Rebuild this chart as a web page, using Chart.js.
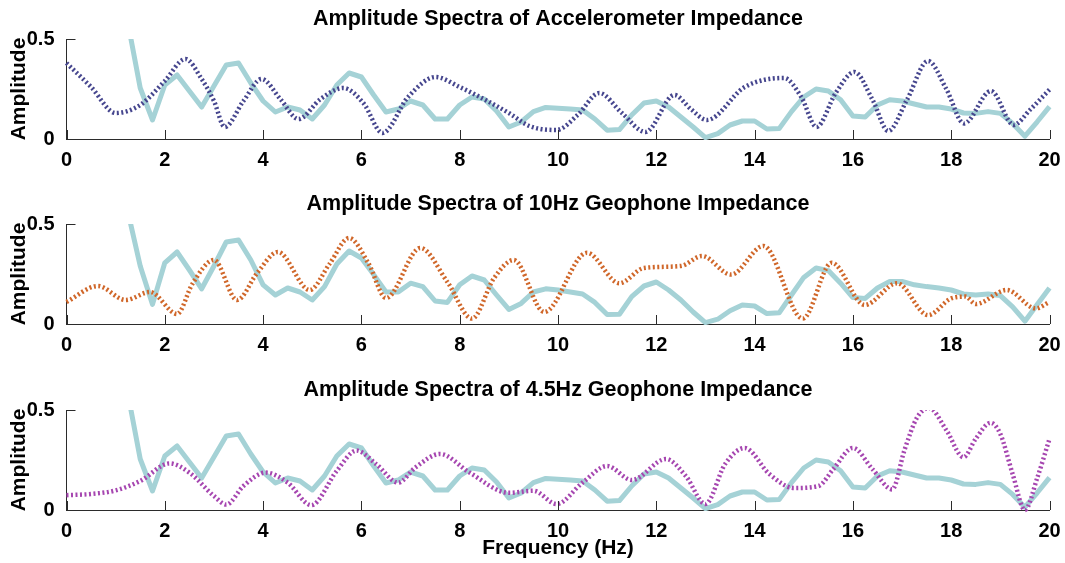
<!DOCTYPE html>
<html><head><meta charset="utf-8">
<script src="https://cdn.jsdelivr.net/npm/chart.js@4.4.1/dist/chart.umd.min.js"></script>
<style>
html,body{margin:0;padding:0;background:#fff;width:1065px;height:563px;overflow:hidden}
.p{position:absolute;left:0;width:1065px}
canvas{display:block}
</style></head><body>
<div class="p" style="top:0px;height:185px"><canvas id="c1" width="1065" height="185" style="width:1065px;height:185px"></canvas></div>
<div class="p" style="top:185px;height:185px"><canvas id="c2" width="1065" height="185" style="width:1065px;height:185px"></canvas></div>
<div class="p" style="top:371px;height:192px"><canvas id="c3" width="1065" height="192" style="width:1065px;height:192px"></canvas></div>
<script>
// ---------- data ----------
const titles = [
  'Amplitude Spectra of Accelerometer Impedance',
  'Amplitude Spectra of 10Hz Geophone Impedance',
  'Amplitude Spectra of 4.5Hz Geophone Impedance'
];
const xTicks = [0, 2, 4, 6, 8, 10, 12, 14, 16, 18, 20];
const yTicks = [0, 0.5];

// reference (solid teal) spectrum frequencies
const refFreq = [1.25,1.5,1.75,2,2.25,2.5,2.75,3,3.25,3.5,3.75,4,4.25,4.5,4.75,5,5.25,5.5,5.75,6,6.25,6.5,6.75,7,7.25,7.5,7.75,8,8.25,8.5,8.75,9,9.25,9.5,9.75,10,10.25,10.5,10.75,11,11.25,11.5,11.75,12,12.25,12.5,12.75,13,13.25,13.5,13.75,14,14.25,14.5,14.75,15,15.25,15.5,15.75,16,16.25,16.5,16.75,17,17.25,17.5,17.75,18,18.25,18.5,18.75,19,19.25,19.5,19.75,20];
// panels 1 and 3
const refAmpA = [0.58,0.255,0.095,0.27,0.32,0.24,0.16,0.265,0.37,0.38,0.28,0.19,0.135,0.16,0.145,0.10,0.17,0.27,0.33,0.31,0.22,0.135,0.15,0.19,0.17,0.10,0.10,0.17,0.21,0.20,0.14,0.06,0.085,0.137,0.158,0.154,0.15,0.145,0.10,0.044,0.047,0.12,0.18,0.19,0.16,0.11,0.06,0.007,0.027,0.07,0.09,0.09,0.05,0.052,0.137,0.21,0.25,0.24,0.196,0.115,0.11,0.17,0.196,0.19,0.175,0.16,0.16,0.15,0.13,0.128,0.137,0.128,0.078,0.014,0.086,0.162];
// panel 2
const refAmpB = [0.56,0.29,0.098,0.306,0.36,0.27,0.176,0.29,0.41,0.42,0.32,0.196,0.145,0.18,0.16,0.12,0.187,0.30,0.365,0.33,0.247,0.16,0.16,0.204,0.187,0.115,0.108,0.196,0.24,0.22,0.145,0.073,0.103,0.16,0.176,0.17,0.16,0.15,0.108,0.047,0.049,0.137,0.19,0.21,0.17,0.12,0.06,0.007,0.024,0.066,0.095,0.09,0.052,0.056,0.145,0.233,0.28,0.267,0.204,0.132,0.128,0.18,0.213,0.213,0.196,0.187,0.18,0.17,0.15,0.145,0.15,0.142,0.086,0.014,0.098,0.18];

// accelerometer (dotted navy)
const accFreq = [0,0.5,1.0,1.5,2.0,2.42,2.75,3.0,3.22,3.6,3.97,4.35,4.72,5.17,5.63,6.04,6.43,6.95,7.51,8.0,8.41,9.0,9.42,9.97,10.4,10.84,11.3,11.78,12.37,12.7,13.03,13.8,14.6,14.95,15.26,15.65,16.03,16.4,16.72,17.1,17.53,17.9,18.26,18.81,19.27,19.6,20];
const accAmp  = [0.38,0.26,0.13,0.17,0.29,0.40,0.30,0.19,0.06,0.19,0.30,0.20,0.10,0.20,0.255,0.18,0.03,0.21,0.31,0.26,0.21,0.13,0.065,0.045,0.12,0.23,0.13,0.035,0.22,0.15,0.095,0.26,0.305,0.21,0.06,0.23,0.335,0.196,0.04,0.196,0.39,0.25,0.078,0.24,0.07,0.145,0.247];

// 10 Hz geophone (dotted orange)
const g10Freq = [0,0.64,1.2,1.7,2.25,2.56,3.0,3.47,3.88,4.3,4.95,5.35,5.75,6.15,6.5,7.2,7.75,8.25,8.7,9.1,9.72,10.59,11.25,11.75,12.5,12.93,13.52,14.18,14.98,15.57,16.24,16.9,17.53,18.0,18.29,18.5,19.13,19.72,20];
const g10Amp  = [0.11,0.19,0.12,0.16,0.05,0.20,0.32,0.12,0.255,0.36,0.17,0.30,0.43,0.30,0.13,0.38,0.21,0.027,0.23,0.32,0.06,0.356,0.204,0.28,0.29,0.34,0.247,0.39,0.027,0.306,0.095,0.204,0.044,0.128,0.137,0.10,0.17,0.078,0.11];

// 4.5 Hz geophone (dotted purple)
const g45Freq = [0,0.5,1.0,1.5,2.1,2.5,3.0,3.25,3.6,4.05,4.5,4.98,5.5,5.9,6.3,6.75,7.1,7.6,8.2,9.0,9.5,9.97,10.5,11.0,11.5,12.2,12.6,13.0,13.4,13.8,14.3,14.8,15.3,15.6,16.0,16.4,16.8,17.05,17.3,17.55,17.9,18.25,18.5,18.8,19.0,19.25,19.5,19.75,20];
const g45Amp  = [0.074,0.08,0.098,0.145,0.233,0.187,0.07,0.027,0.12,0.187,0.137,0.024,0.196,0.297,0.23,0.137,0.213,0.28,0.187,0.086,0.096,0.03,0.137,0.22,0.15,0.255,0.17,0.03,0.23,0.31,0.18,0.11,0.12,0.204,0.31,0.204,0.103,0.30,0.46,0.51,0.40,0.264,0.356,0.436,0.38,0.18,0.0,0.16,0.356];

// ---------- helpers ----------
const FONT = "'Liberation Sans', Arial, Helvetica, sans-serif";
const TEAL = '#a5d2d6';
const AXIS = '#2b2b2b';

function pts(xs, ys) { return xs.map((x, i) => ({x: x, y: ys[i]})); }

const inTicks = {
  id: 'inTicks',
  afterDatasetsDraw(chart) {
    const {ctx, chartArea: a, scales: {x, y}} = chart;
    ctx.save();
    ctx.strokeStyle = AXIS;
    ctx.lineWidth = 1;
    ctx.beginPath();
    xTicks.forEach(v => {
      const px = Math.round(x.getPixelForValue(v)) + 0.5;
      ctx.moveTo(px, a.bottom);
      ctx.lineTo(px, a.bottom - 9);
    });
    yTicks.forEach(v => {
      const py = Math.round(y.getPixelForValue(v)) + 0.5;
      ctx.moveTo(a.left, py);
      ctx.lineTo(a.left + 9, py);
    });
    ctx.stroke();
    ctx.restore();
  }
};

function makePanel(id, title, dotFreq, dotAmp, dotColor, refAmp, H, showX) {
  new Chart(document.getElementById(id), {
    type: 'scatter',
    data: {
      datasets: [
        {
          data: pts(dotFreq, dotAmp), showLine: true, borderColor: dotColor,
          borderWidth: 4.5, borderDash: [2, 2.5], borderCapStyle: 'butt',
          cubicInterpolationMode: 'monotone', pointRadius: 0, fill: false,
          clip: {left: 5, top: 0, right: 5, bottom: 5}
        },
        {
          data: pts(refFreq, refAmp), showLine: true, borderColor: TEAL,
          borderWidth: 5, borderJoinStyle: 'round', tension: 0, pointRadius: 0, fill: false,
          clip: {left: 5, top: 0, right: 5, bottom: 5}
        }
      ]
    },
    options: {
      responsive: false, animation: false, devicePixelRatio: 1,
      layout: {padding: {left: 0, right: 15.5, top: 0, bottom: 0}, autoPadding: false},
      plugins: {
        legend: {display: false}, tooltip: {enabled: false},
        title: {display: true, text: title, color: '#000', fullSize: false,
          font: {family: FONT, size: 21.5, weight: 'bold'}, padding: {top: 6, bottom: 7.2}}
      },
      scales: {
        x: {
          type: 'linear', min: 0, max: 20,
          afterFit(s) { s.height = H - 139; },
          afterBuildTicks(s) { s.ticks = xTicks.map(v => ({value: v})); },
          grid: {display: false},
          border: {display: true, color: AXIS, width: 1},
          ticks: {color: '#000', font: {family: FONT, size: 20, weight: 'bold'}, padding: 1, maxRotation: 0, autoSkip: false},
          title: {display: showX, text: 'Frequency (Hz)', color: '#000',
            font: {family: FONT, size: 21, weight: 'bold'}, padding: {top: 0, bottom: 2}}
        },
        y: {
          min: 0, max: 0.5,
          afterFit(s) { s.width = 66.5; },
          afterBuildTicks(s) { s.ticks = yTicks.map(v => ({value: v})); },
          grid: {display: false},
          border: {display: true, color: AXIS, width: 1},
          ticks: {color: '#000', font: {family: FONT, size: 20, weight: 'bold'}, padding: 4},
          title: {display: true, text: 'Amplitude', color: '#000',
            font: {family: FONT, size: 21, weight: 'bold'}, padding: {top: 7, bottom: 0}}
        }
      }
    },
    plugins: [inTicks]
  });
}

makePanel('c1', titles[0], accFreq, accAmp, '#46468e', refAmpA, 185, false);
makePanel('c2', titles[1], g10Freq, g10Amp, '#d0672a', refAmpB, 185, false);
makePanel('c3', titles[2], g45Freq, g45Amp, '#a646b0', refAmpA, 192, true);
</script>
</body></html>
